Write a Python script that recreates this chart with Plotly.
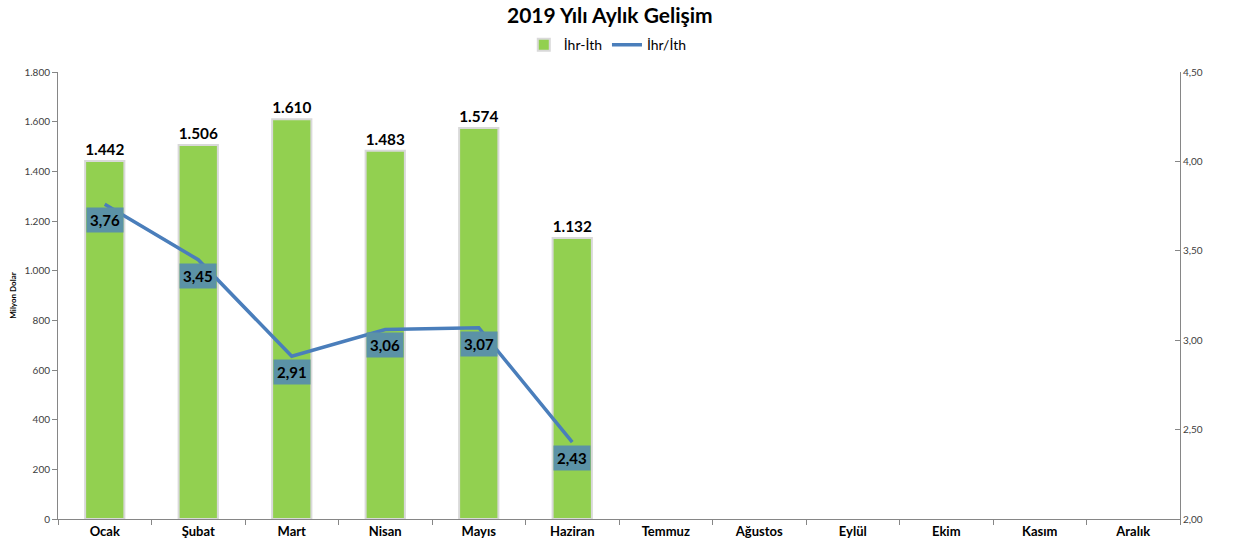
import plotly.graph_objects as go

months = ["Ocak", "Şubat", "Mart", "Nisan", "Mayıs", "Haziran",
          "Temmuz", "Ağustos", "Eylül", "Ekim", "Kasım", "Aralık"]
diff_values = [1442, 1506, 1610, 1483, 1574, 1132, None, None, None, None, None, None]
ratio_values = [3.76, 3.45, 2.91, 3.06, 3.07, 2.43, None, None, None, None, None, None]
ratio_labels = ["3,76", "3,45", "2,91", "3,06", "3,07", "2,43"]

FONT = "Lato"

fig = go.Figure()
fig.add_trace(go.Bar(
    x=months, y=diff_values, name="İhr-İth",
    marker=dict(color="#92D050", line=dict(color="#D9D9D9", width=2)),
    width=0.42,
    texttemplate="%{y:,}", textposition="outside",
    textfont=dict(family=FONT, size=16, color="#000000", weight="bold"),
    cliponaxis=False,
))
fig.add_trace(go.Scatter(
    x=months, y=ratio_values, name="İhr/İth", yaxis="y2",
    mode="lines", line=dict(color="#4A7EBB", width=3.5),
))

for m, v, lab in zip(months, ratio_values, ratio_labels):
    fig.add_annotation(
        x=m, y=v, xref="x", yref="y2", text="<b>" + lab + "</b>",
        showarrow=False, yshift=-16, bgcolor="#5B92A6",
        font=dict(family=FONT, size=15, color="#000000"),
        borderpad=3,
    )

fig.update_layout(
    width=1237, height=553,
    margin=dict(l=58, r=57, t=72, b=34),
    paper_bgcolor="white", plot_bgcolor="white",
    separators=",.",
    title=dict(text="<b>2019 Yılı Aylık Gelişim</b>", x=0.493, xanchor="center",
               y=0.985, yanchor="top",
               font=dict(family=FONT, size=21, color="#000000")),
    legend=dict(orientation="h", x=0.49, xanchor="center", y=1.06, yanchor="middle",
                font=dict(family=FONT, size=14, color="#000000"),
                itemwidth=30, traceorder="normal"),
    showlegend=True,
    xaxis=dict(
        type="category", showline=True, linecolor="#868686", linewidth=1,
        ticks="outside", tickson="boundaries", ticklen=5, tickcolor="#868686",
        tickfont=dict(family=FONT, size=13, color="#000000", weight="bold"),
        showgrid=False,
    ),
    yaxis=dict(
        range=[0, 1800], dtick=200, tickformat=",d",
        showline=True, linecolor="#868686", linewidth=1,
        ticks="outside", ticklen=5, tickcolor="#868686",
        tickfont=dict(family=FONT, size=10, color="#404040"),
        showgrid=False, zeroline=False,
        title=dict(text="<b>Milyon Dolar</b>", font=dict(family=FONT, size=8, color="#000000"), standoff=6),
    ),
    yaxis2=dict(
        range=[2, 4.5], dtick=0.5, tickformat=".2f",
        overlaying="y", side="right",
        showline=True, linecolor="#868686", linewidth=1,
        ticks="inside", ticklen=5, tickcolor="#868686",
        tickfont=dict(family=FONT, size=10, color="#404040"),
        showgrid=False, zeroline=False,
    ),
)

fig.write_html("out.html")
